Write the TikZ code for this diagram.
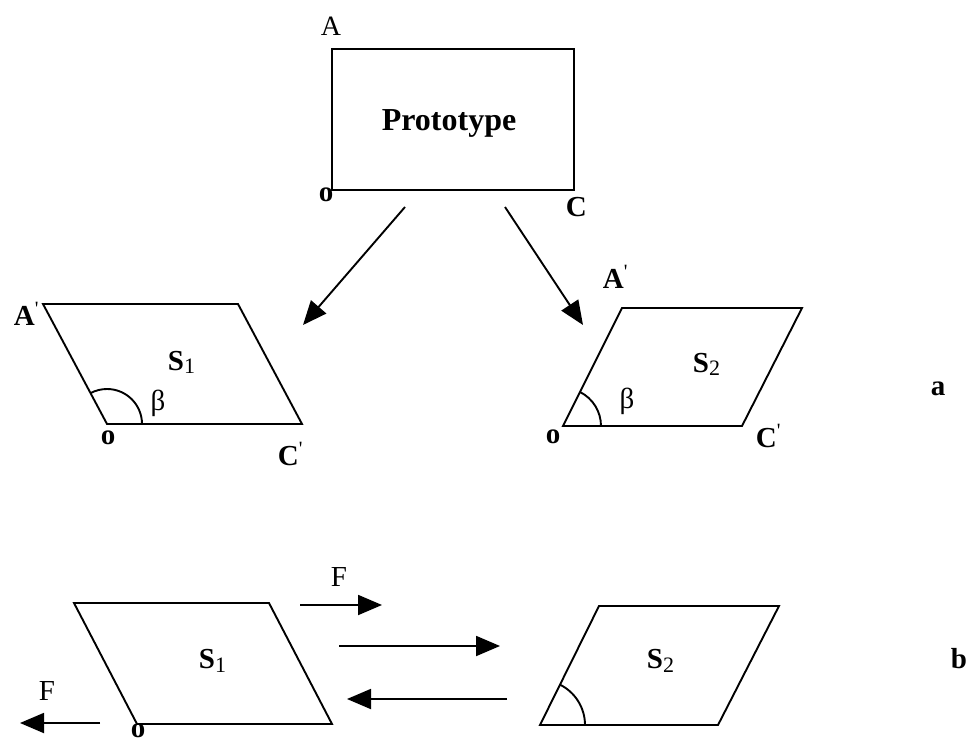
\documentclass[tikz,border=0pt]{standalone}
\usepackage{fontspec}
\setmainfont{Liberation Serif}
\usetikzlibrary{arrows.meta}
\newcommand{\myprime}{\textsuperscript{\mdseries\textquotesingle}}
\newcommand{\mysub}[1]{\raisebox{-0.3ex}{\fontsize{22}{24}\selectfont\mdseries #1}}
\begin{document}
\begin{tikzpicture}[x=1pt,y=-1pt,line width=1.9pt,
  arr/.style={-{Triangle[length=24pt,width=20pt]}},
  txt/.style={inner sep=0pt,font=\fontsize{29}{31}\selectfont},
  btxt/.style={inner sep=0pt,font=\fontsize{29}{31}\selectfont\bfseries},
  frame/.style={draw,line join=miter}]
\useasboundingbox (0,0) rectangle (972,744);
\fill[white] (0,0) rectangle (972,744);

% ---------- prototype ----------
\node[frame,minimum width=242pt,minimum height=141pt,inner sep=0pt] (proto) at (453,119.5) {};
\node[inner sep=0pt,font=\fontsize{32}{34}\selectfont\bfseries,anchor=base] (ptxt) at (449,130) {Prototype};
\node[txt,font=\fontsize{28}{30}\selectfont,anchor=base west] (lA) at (320,35) {A};
\node[btxt,anchor=base west] (lO) at (318,201) {o};
\node[btxt,anchor=base west] (lC) at (565,216) {C};

% ---------- (a) S1 ----------
\coordinate (a1) at (107,424);
\coordinate (a2) at (302,424);
\coordinate (a3) at (238,304);
\coordinate (a4) at (43,304);
\draw[frame] (a1) -- (a2) -- (a3) -- (a4) -- cycle;
\draw ([xshift=35pt]a1) arc[start angle=0,end angle=118,radius=35pt];
\node[btxt,anchor=base west] (s1A) at (13,325) {A\myprime};
\node[btxt,anchor=base west] (s1L) at (167,370) {S\mysub{1}};
\node[txt] (s1b) at (158,403) {β};
\node[btxt] (s1o) at (108,438) {o};
\node[btxt,anchor=base west] (s1C) at (277,465) {C\myprime};

% ---------- (a) S2 ----------
\coordinate (b1) at (563,426);
\coordinate (b2) at (742,426);
\coordinate (b3) at (802,308);
\coordinate (b4) at (622,308);
\draw[frame] (b1) -- (b2) -- (b3) -- (b4) -- cycle;
\draw ([xshift=38pt]b1) arc[start angle=0,end angle=63.4,radius=38pt];
\node[btxt,anchor=base west] (s2A) at (602,288) {A\myprime};
\node[btxt,anchor=base west] (s2L) at (692,372) {S\mysub{2}};
\node[txt] (s2b) at (627,401) {β};
\node[btxt] (s2o) at (553,437) {o};
\node[btxt,anchor=base west] (s2C) at (755,447) {C\myprime};

\node[btxt] (la) at (938,389) {a};

% arrows from prototype
\coordinate (p1) at (405,207);
\coordinate (q1) at (303,325);
\coordinate (p2) at (505,207);
\coordinate (q2) at (583,325);
\draw[arr] (p1) -- (q1);
\draw[arr] (p2) -- (q2);

% ---------- (b) S1 ----------
\coordinate (c1) at (137,724);
\coordinate (c2) at (332,724);
\coordinate (c3) at (269,603);
\coordinate (c4) at (74,603);
\draw[frame] (c1) -- (c2) -- (c3) -- (c4) -- cycle;
\node[btxt,anchor=base west] (t1L) at (198,668) {S\mysub{1}};
\node[btxt] (t1o) at (138,731) {o};

% ---------- (b) S2 ----------
\coordinate (d1) at (540,725);
\coordinate (d2) at (718,725);
\coordinate (d3) at (779,606);
\coordinate (d4) at (599,606);
\draw[frame] (d1) -- (d2) -- (d3) -- (d4) -- cycle;
\draw ([xshift=45pt]d1) arc[start angle=0,end angle=63.6,radius=45pt];
\node[btxt,anchor=base west] (t2L) at (646,668) {S\mysub{2}};
\node[btxt,anchor=base west] (lb) at (950,668) {b};

% forces
\coordinate (f1s) at (300,605);
\coordinate (f1e) at (382,605);
\coordinate (m1s) at (339,646);
\coordinate (m1e) at (500,646);
\coordinate (m2s) at (507,699);
\coordinate (m2e) at (347,699);
\coordinate (f2s) at (100,723);
\coordinate (f2e) at (20,723);
\draw[arr] (f1s) -- (f1e);
\draw[arr] (m1s) -- (m1e);
\draw[arr] (m2s) -- (m2e);
\draw[arr] (f2s) -- (f2e);
\node[txt,anchor=base west] (lF1) at (330,586) {F};
\node[txt,anchor=base west] (lF2) at (38,700) {F};
\end{tikzpicture}
\end{document}
